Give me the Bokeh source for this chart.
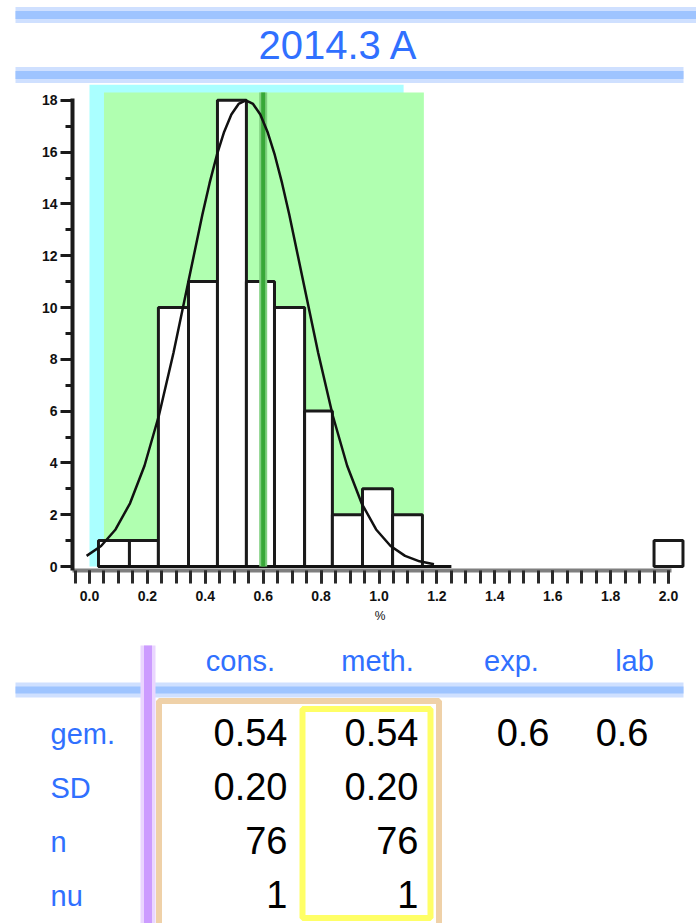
from bokeh.plotting import figure
from bokeh.layouts import column
from bokeh.models import Range1d, SingleIntervalTicker, PrintfTickFormatter, Label
from bokeh.embed import file_html
from bokeh.resources import INLINE
from bokeh.core.properties import value

# ---------------- data ----------------
title_text = "2014.3 A"

bin_left = [0.031, 0.138, 0.238, 0.342, 0.442, 0.542, 0.639, 0.743, 0.839, 0.943, 1.047, 1.95]
bin_right = [0.138, 0.238, 0.342, 0.442, 0.542, 0.639, 0.743, 0.839, 0.943, 1.047, 1.150, 2.05]
counts = [1, 1, 10, 11, 18, 11, 10, 6, 2, 3, 2, 1]

curve_x = [-0.01, 0.04, 0.09, 0.14, 0.19, 0.24, 0.29, 0.34, 0.39, 0.415, 0.44, 0.465, 0.49, 0.515,
           0.54, 0.565, 0.59, 0.615, 0.64, 0.665, 0.69, 0.74, 0.79, 0.84, 0.89, 0.94, 0.99, 1.04,
           1.09, 1.14, 1.19]
curve_y = [0.41, 0.79, 1.43, 2.44, 3.89, 5.84, 8.24, 10.92, 13.59, 14.81, 15.89, 16.78, 17.45, 17.86,
           18.0, 17.86, 17.45, 16.78, 15.89, 14.81, 13.59, 10.92, 8.24, 5.84, 3.89, 2.44, 1.43, 0.79,
           0.41, 0.20, 0.09]

cyan_band = [0.0, 1.085, 18.61]    # left, right, top
green_band = [0.05, 1.155, 18.3]   # left, right, top
baseline = [0.031, 1.25]
exp_value = 0.6

col_headers = ["cons.", "meth.", "exp.", "lab"]
row_labels = ["gem.", "SD", "n", "nu"]
cons_vals = ["0.54", "0.20", "76", "1"]
meth_vals = ["0.54", "0.20", "76", "1"]
exp_vals = ["0.6"]
lab_vals = ["0.6"]

# ---------------- styles ----------------
W = 696
FONT = "Liberation Sans"
BLUE = "#3070ff"
LINE_CORE = "#9ec4ff"
LINE_HALO = "#cfe0ff"
BASE_SHIFT = 0.41  # measured offset of the alphabetic baseline, in em


def blank(h):
    f = figure(width=W, height=h, x_range=Range1d(0, W), y_range=Range1d(h, 0),
               toolbar_location=None, output_backend="svg", min_border=0,
               x_axis_location=None, y_axis_location=None, outline_line_color=None)
    f.grid.visible = False
    f.frame_align = False
    return f


def put_text(f, xs, ys, texts, size, color, align):
    f.text(x=xs, y=[y - BASE_SHIFT * size for y in ys], text=texts, text_align=align,
           text_baseline="alphabetic", text_font=value(FONT), text_font_size=f"{size}px",
           text_color=color)


# ---------------- title ----------------
TH = 84
ft = blank(TH)
for lw, col in ((16, LINE_HALO), (8, LINE_CORE)):
    ft.segment(x0=[15], y0=[14.5], x1=[W], y1=[14.5], line_color=col, line_width=lw)
    ft.segment(x0=[15], y0=[74.5], x1=[683], y1=[74.5], line_color=col, line_width=lw)
put_text(ft, [338], [61], [title_text], 40, BLUE, "center")

# ---------------- histogram ----------------
x0, x1 = -0.0587, 2.0656
y0, y1 = -0.154, 18.61
fh = figure(width=W, height=546, x_range=Range1d(x0, x1), y_range=Range1d(y0, y1),
            toolbar_location=None, output_backend="svg",
            min_border_left=72, min_border_right=9, min_border_top=0, min_border_bottom=60,
            outline_line_color=None)
fh.grid.visible = False
fh.frame_align = False

fh.quad(left=[cyan_band[0]], right=[cyan_band[1]], bottom=[0], top=[cyan_band[2]],
        fill_color="#aaffff", line_color=None)
fh.quad(left=[green_band[0]], right=[green_band[1]], bottom=[0], top=[green_band[2]],
        fill_color="#b0ffb0", line_color=None)
fh.quad(left=bin_left, right=bin_right, bottom=[0] * len(counts), top=counts,
        fill_color="white", line_color="#1a1a1a", line_width=3)
fh.segment(x0=[baseline[0]], y0=[0], x1=[baseline[1]], y1=[0], line_color="#111111", line_width=3)
fh.segment(x0=[exp_value], y0=[0], x1=[exp_value], y1=[green_band[2]],
           line_color="#80d080", line_width=8)
fh.segment(x0=[exp_value], y0=[0], x1=[exp_value], y1=[green_band[2]],
           line_color="#38a838", line_width=4)
fh.line(curve_x, curve_y, line_color="#111111", line_width=2.5, line_join="round")

fh.add_layout(Label(x=exp_value, y=-0.45, text="▲", text_align="center", text_baseline="middle",
                    text_font="DejaVu Sans", text_font_size="16px", text_color="#111111"))
fh.add_layout(Label(x=exp_value, y=-0.45, text="▲", text_align="center", text_baseline="middle",
                    text_font="DejaVu Sans", text_font_size="10px", text_color="#8a8a00"))

yax = fh.yaxis[0]
yax.ticker = SingleIntervalTicker(interval=2, num_minor_ticks=2)
yax.bounds = (y0, 18.08)
yax.axis_line_color = "#1a1a1a"
yax.axis_line_width = 4
yax.major_tick_line_color = "#1a1a1a"
yax.major_tick_line_width = 3
yax.major_tick_out = 12
yax.major_tick_in = 0
yax.minor_tick_line_color = "#1a1a1a"
yax.minor_tick_line_width = 3
yax.minor_tick_out = 7
yax.minor_tick_in = 0
yax.major_label_text_font = FONT
yax.major_label_text_font_size = "14px"
yax.major_label_text_font_style = "bold"
yax.major_label_text_color = "#111111"
yax.major_label_standoff = 3

xax = fh.xaxis[0]
xax.ticker = SingleIntervalTicker(interval=0.2, num_minor_ticks=4)
xax.bounds = (x0, 2.01)
xax.formatter = PrintfTickFormatter(format="%.1f")
xax.axis_line_color = "#7f7f7f"
xax.axis_line_width = 4
xax.major_tick_line_color = "#2a2a2a"
xax.major_tick_line_width = 3
xax.major_tick_out = 13
xax.major_tick_in = 0
xax.minor_tick_line_color = "#2a2a2a"
xax.minor_tick_line_width = 3
xax.minor_tick_out = 13
xax.minor_tick_in = 0
xax.major_label_text_font = FONT
xax.major_label_text_font_size = "14px"
xax.major_label_text_font_style = "bold"
xax.major_label_text_color = "#111111"
xax.major_label_standoff = 7
xax.axis_label = "%"
xax.axis_label_text_font = FONT
xax.axis_label_text_font_size = "12px"
xax.axis_label_text_font_style = "normal"
xax.axis_label_text_color = "#111111"
xax.axis_label_standoff = 5

# ---------------- table ----------------
BH = 923 - TH - 546
fb = blank(BH)
for lw, col in ((15, LINE_HALO), (7, LINE_CORE)):
    fb.segment(x0=[15], y0=[59.5], x1=[683], y1=[59.5], line_color=col, line_width=lw)
fb.segment(x0=[147.5], y0=[15], x1=[147.5], y1=[310], line_color="#ead6ff", line_width=15)
fb.segment(x0=[147.5], y0=[15], x1=[147.5], y1=[310], line_color="#cc9cff", line_width=8)
fb.quad(left=[158.5], right=[438.5], top=[70.5], bottom=[310], fill_color=None,
        line_color="#efd1a8", line_width=6)
fb.quad(left=[302], right=[430], top=[78.5], bottom=[287.5], fill_color=None,
        line_color="#ffff66", line_width=6)

put_text(fb, [240, 377, 511, 634], [42] * 4, col_headers, 29, BLUE, "center")
row_y = [118, 172, 226, 280]
put_text(fb, [50] * 4, [y - 3 for y in row_y], row_labels, 29, BLUE, "left")
put_text(fb, [287] * 4, row_y, cons_vals, 38, "#000000", "right")
put_text(fb, [418] * 4, row_y, meth_vals, 38, "#000000", "right")
put_text(fb, [549], row_y[:1], exp_vals, 38, "#000000", "right")
put_text(fb, [648], row_y[:1], lab_vals, 38, "#000000", "right")

layout = column(ft, fh, fb, spacing=0)
open("out.html", "w").write(file_html(layout, INLINE))
